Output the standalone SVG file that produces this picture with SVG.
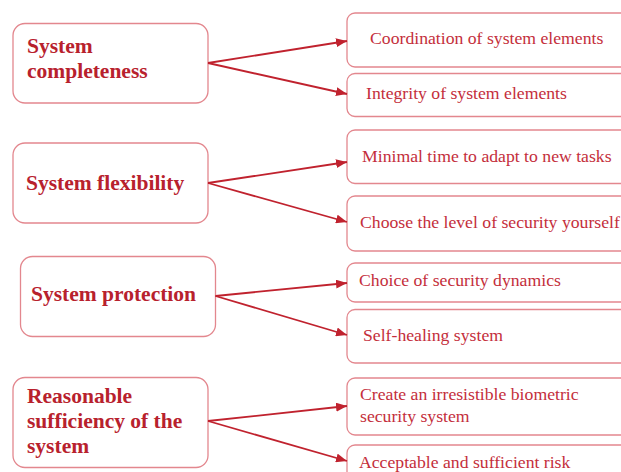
<svg xmlns="http://www.w3.org/2000/svg" width="621" height="472" viewBox="0 0 621 472">
<style>
.bg{fill:#ffffff}
.lbox{fill:#ffffff;stroke:#e3878e;stroke-width:1.3}
.rbox{fill:#ffffff;stroke:#e3878e;stroke-width:1.3}
.title{font-family:"Liberation Serif","Times New Roman",serif;font-weight:bold;font-size:21.5px;fill:#b8212d}
.item{font-family:"Liberation Serif","Times New Roman",serif;font-size:17.7px;fill:#c42e3b}
.conn{stroke:#c0222e;stroke-width:1.8;fill:none;marker-end:url(#ah)}
</style>
<defs>
<marker id="ah" markerUnits="userSpaceOnUse" markerWidth="11" markerHeight="9" refX="11" refY="4.5" orient="auto">
<path d="M0,0 L11,4.5 L0,9 z" fill="#c0222e"/>
</marker>
</defs>
<rect class="bg" x="0" y="0" width="621" height="472"/>

<g id="n-completeness">
<rect class="lbox" x="13" y="23.5" width="195" height="79.5" rx="12"/>
<text class="title" x="27" y="53">System</text>
<text class="title" x="27" y="78">completeness</text>
</g>
<g id="n-coordination">
<rect class="rbox" x="347" y="13" width="290" height="54" rx="8"/>
<text class="item" x="370" y="44">Coordination of system elements</text>
</g>
<g id="n-integrity">
<rect class="rbox" x="347" y="73.5" width="290" height="43" rx="8"/>
<text class="item" x="366" y="99">Integrity of system elements</text>
</g>

<g id="n-flexibility">
<rect class="lbox" x="13" y="143" width="195" height="80" rx="12"/>
<text class="title" x="26" y="190">System flexibility</text>
</g>
<g id="n-minimal">
<rect class="rbox" x="347" y="130" width="290" height="53.5" rx="8"/>
<text class="item" x="362" y="162">Minimal time to adapt to new tasks</text>
</g>
<g id="n-choose">
<rect class="rbox" x="347" y="196" width="290" height="55" rx="8"/>
<text class="item" x="360" y="228">Choose the level of security yourself</text>
</g>

<g id="n-protection">
<rect class="lbox" x="20.5" y="256.5" width="195" height="80" rx="12"/>
<text class="title" x="31" y="301">System protection</text>
</g>
<g id="n-dynamics">
<rect class="rbox" x="347" y="263" width="290" height="39" rx="8"/>
<text class="item" x="359" y="286">Choice of security dynamics</text>
</g>
<g id="n-selfhealing">
<rect class="rbox" x="347" y="309.5" width="290" height="53.5" rx="8"/>
<text class="item" x="363" y="341">Self-healing system</text>
</g>

<g id="n-sufficiency">
<rect class="lbox" x="13" y="377.5" width="195" height="90" rx="12"/>
<text class="title" x="27" y="403">Reasonable</text>
<text class="title" x="27" y="428">sufficiency of the</text>
<text class="title" x="27" y="453">system</text>
</g>
<g id="n-biometric">
<rect class="rbox" x="347" y="378" width="290" height="57" rx="8"/>
<text class="item" x="360" y="400">Create an irresistible biometric</text>
<text class="item" x="360" y="422">security system</text>
</g>
<g id="n-risk">
<rect class="rbox" x="347" y="445" width="290" height="45" rx="8"/>
<text class="item" x="359" y="468">Acceptable and sufficient risk</text>
</g>

<g id="connectors">
<line class="conn" x1="208" y1="63" x2="347" y2="41"/>
<line class="conn" x1="208" y1="63" x2="347" y2="94"/>
<line class="conn" x1="208" y1="183" x2="347" y2="162"/>
<line class="conn" x1="208" y1="183" x2="347" y2="222"/>
<line class="conn" x1="215.5" y1="296" x2="347" y2="283"/>
<line class="conn" x1="215.5" y1="296" x2="347" y2="335"/>
<line class="conn" x1="208" y1="421" x2="347" y2="406"/>
<line class="conn" x1="208" y1="421" x2="347" y2="461"/>
</g>
</svg>
